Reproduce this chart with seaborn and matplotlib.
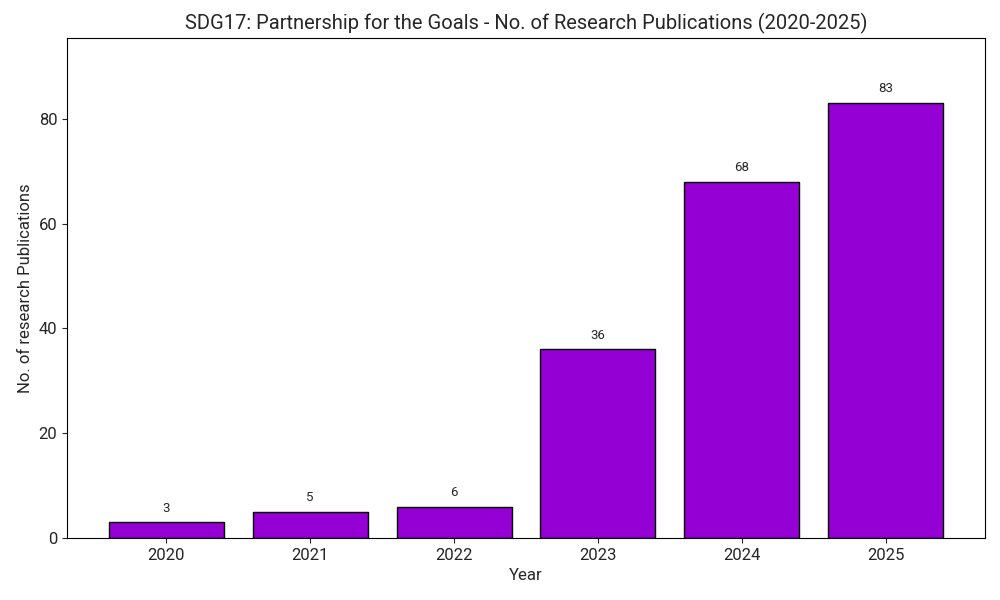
import matplotlib
matplotlib.use("Agg")
import matplotlib.pyplot as plt
import seaborn as sns
import pandas as pd

years = ["2020", "2021", "2022", "2023", "2024", "2025"]
counts = [3, 5, 6, 36, 68, 83]

sns.set_style("ticks")
plt.rcParams['font.family'] = ['Roboto', 'DejaVu Sans']

df = pd.DataFrame({"Year": years, "Count": counts})

fig, ax = plt.subplots(figsize=(10, 6), dpi=100)
sns.barplot(data=df, x="Year", y="Count", color="#9400D3", saturation=1,
            edgecolor="black", linewidth=1, width=0.8, ax=ax)

for i, v in enumerate(counts):
    ax.text(i, v + 1.5, str(v), ha="center", va="bottom", fontsize=9.5)

n = len(years)
pad = (n - 1 + 0.8) * 0.05
ax.set_xlim(-0.4 - pad, n - 1 + 0.4 + pad)
ax.set_ylim(0, max(counts) * 1.15)
ax.set_title("SDG17: Partnership for the Goals - No. of Research Publications (2020-2025)", fontsize=14.5)
ax.set_xlabel("Year", fontsize=12)
ax.set_ylabel("No. of research Publications", fontsize=12)
ax.tick_params(labelsize=12)
for s in ax.spines.values():
    s.set_visible(True)
    s.set_color("black")

fig.subplots_adjust(left=0.067, right=0.985, top=0.937, bottom=0.103)
fig.savefig("out.png", dpi=100)
